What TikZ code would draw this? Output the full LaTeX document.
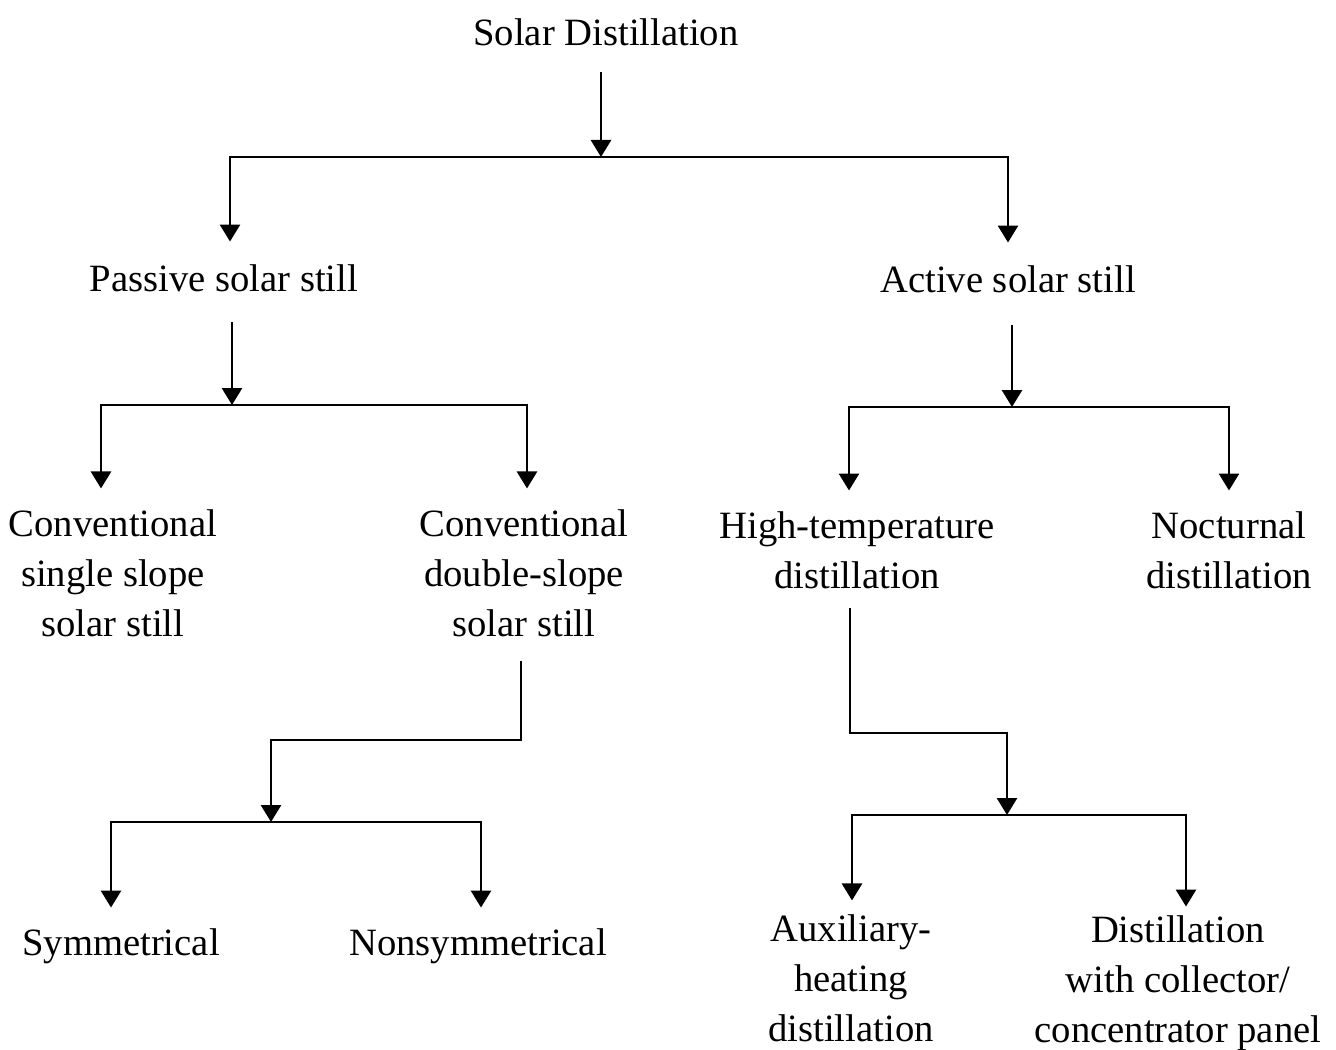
\documentclass[tikz,border=0pt]{standalone}
\usepackage{fontspec}
\setmainfont{Liberation Serif}
\usetikzlibrary{arrows.meta}

\tikzset{
	txt/.style={font=\fontsize{22}{28.5}\selectfont, align=center, inner sep=2pt},
	arr/.style={-{Triangle[width=0.4cm,length=0.34cm]}, line width=1.6pt},
}

\begin{document}
\begin{tikzpicture}[x=0.02cm,y=-0.02cm]
	
	\useasboundingbox (0,0) rectangle (1336,1050);
	
	% Các nút
	\node[txt] (solar) at (606,32) {Solar Distillation};
	\node[txt] (passive) at (224,278) {Passive solar still};
	\node[txt] (active) at (1008,279) {Active solar still};
	\node[txt] (single) at (113,573) {Conventional\\single slope\\solar still};
	\node[txt] (double) at (524,573) {Conventional\\double-slope\\solar still};
	\node[txt] (hightemp) at (857,550) {High-temperature\\distillation};
	\node[txt] (nocturnal) at (1229,550) {Nocturnal\\distillation};
	\node[txt] (sym) at (121,946) {Symmetrical};
	\node[txt] (nonsym) at (478,946) {Nonsymmetrical};
	\node[txt] (aux) at (851,978) {Auxiliary-\\heating\\distillation};
	\node[txt] (collector) at (1178,983) {Distillation\\with collector/\\concentrator panel};
	
	% Điểm rẽ nhánh
	\coordinate (b1) at (601,157);
	\coordinate (b2) at (232,405);
	\coordinate (b3) at (1012,407);
	\coordinate (b4) at (521,740);
	\coordinate (b5) at (271,822);
	\coordinate (b6) at (850,733);
	\coordinate (b7) at (1007,815);
	
	% Solar Distillation
	\draw[arr, shorten <=0.46cm] (solar.south -| b1) -- (b1);
	\draw[arr, shorten >=0.38cm] (b1) -| ([xshift=0.12cm]passive.north);
	\draw[arr, shorten >=0.38cm] (b1) -| (active.north);
	
	% Passive solar still
	\draw[arr, shorten <=0.54cm] (passive.south -| b2) -- (b2);
	\draw[arr, shorten >=0.34cm] (b2) -| ([xshift=-0.24cm]single.north);
	\draw[arr, shorten >=0.34cm] (b2) -| ([xshift=0.06cm]double.north);
	
	% Active solar still
	\draw[arr, shorten <=0.58cm] (active.south -| b3) -- (b3);
	\draw[arr, shorten >=0.34cm] (b3) -| ([xshift=-0.16cm]hightemp.north);
	\draw[arr, shorten >=0.34cm] (b3) -| (nocturnal.north);
	
	% Double-slope
	\draw[arr, shorten <=0.4cm] (double.south -| b4) -- (b4) -| (b5);
	\draw[arr, shorten >=0.34cm] (b5) -| ([xshift=-0.2cm]sym.north);
	\draw[arr, shorten >=0.34cm] (b5) -| ([xshift=0.06cm]nonsym.north);
	
	% High-temperature
	\draw[arr, shorten <=0.32cm] (hightemp.south -| b6) -- (b6) -| (b7);
	\draw[arr, shorten >=0.2cm] (b7) -| ([xshift=0.02cm]aux.north);
	\draw[arr, shorten >=0.1cm] (b7) -| ([xshift=0.16cm]collector.north);
	
\end{tikzpicture}
\end{document}
